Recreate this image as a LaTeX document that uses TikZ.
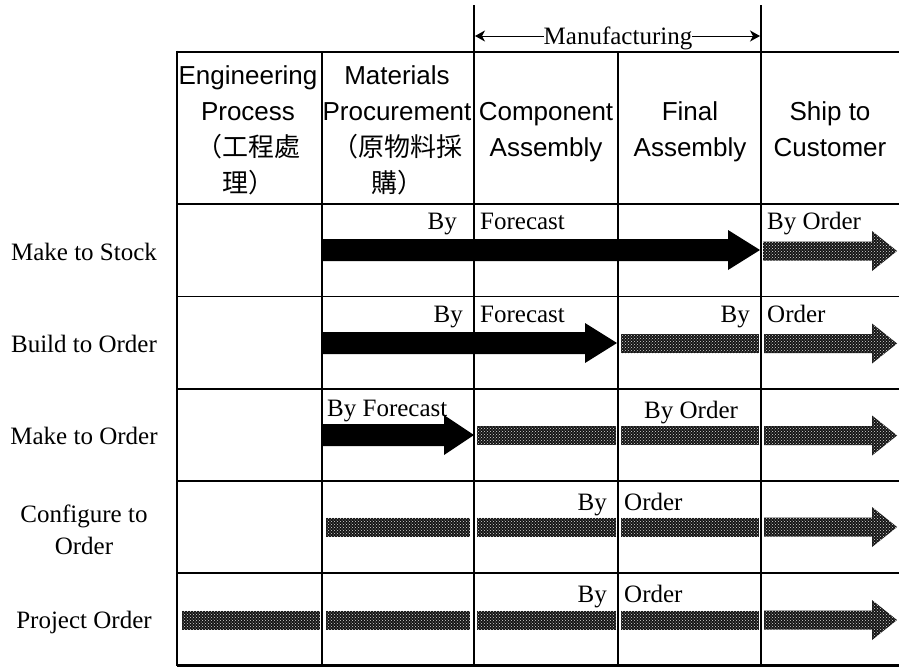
\documentclass[tikz,border=0pt]{standalone}
\usepackage{fontspec}
\setmainfont{Liberation Serif}
\newfontfamily\hdrfont{Liberation Sans}
\newfontfamily\cjkfont{Noto Sans CJK TC}
\usetikzlibrary{arrows.meta,patterns}
\newcommand\mygseg[3]{\fill[gry] (#1,#3-9.5) rectangle (#2,#3+9.5);}
\newcommand\myghead[3]{\fill[gry] (#1,#3-9.5) -- (#2,#3-9.5) -- (#2,#3-20) -- (897,#3) -- (#2,#3+20) -- (#2,#3+9.5) -- (#1,#3+9.5) -- cycle;}
\newcommand\mybarrow[4]{\fill[blk] (#1,#4-11) -- (#2,#4-11) -- (#2,#4-20) -- (#3,#4) -- (#2,#4+20) -- (#2,#4+11) -- (#1,#4+11) -- cycle;}
\begin{document}
\begin{tikzpicture}[x=1pt,y=-1pt,
 grid/.style={line width=1.6pt,black},
 border/.style={line width=2.6pt,black},
 thinline/.style={line width=1.1pt,black},
 hdr/.style={inner sep=0pt,anchor=base,font=\hdrfont\fontsize{26}{30}\selectfont},
 hcjk/.style={inner sep=0pt,anchor=base,font=\cjkfont\fontsize{26}{30}\selectfont},
 lbl/.style={inner sep=0pt,font=\fontsize{25}{30}\selectfont},
 blk/.style={fill=black},
 gry/.style={fill=black!92,postaction={pattern=crosshatch dots,pattern color=white!85!black}},
 mfgarrow/.style={line width=1pt,-{Stealth[length=10pt,width=11pt,inset=3pt]}},
]
\useasboundingbox (0,0) rectangle (899,667);

% bars
\mybarrow{323}{728}{760}{250}
\myghead{763}{872}{251}
\mybarrow{323}{585}{617}{343}
\mygseg{621}{759}{343.5}
\myghead{764}{872}{343.5}
\mybarrow{323}{444}{474}{435}
\mygseg{477}{616}{435.5}
\mygseg{621}{759}{435.5}
\myghead{764}{872}{435.5}
\mygseg{326}{470}{527}
\mygseg{477}{616}{527}
\mygseg{621}{759}{527}
\myghead{764}{872}{527}
\mygseg{182}{320}{620}
\mygseg{326}{470}{620}
\mygseg{477}{616}{620}
\mygseg{621}{759}{620}
\myghead{764}{872}{620}

% grid
\draw[thinline] (474,5) -- (474,52);
\draw[thinline] (761,5) -- (761,52);
\draw[border] (177,52) -- (899,52);
\draw[border] (177,50.7) -- (177,666);
\draw[grid] (177,204) -- (899,204);
\draw[grid] (177,296.5) -- (899,296.5);
\draw[grid] (177,389) -- (899,389);
\draw[grid] (177,481) -- (899,481);
\draw[grid] (177,573) -- (899,573);
\draw[border] (177,665.5) -- (899,665.5);
\draw[grid] (322,52) -- (322,665);
\draw[grid] (474,52) -- (474,665);
\draw[grid] (618,52) -- (618,665);
\draw[grid] (761,52) -- (761,665);

% manufacturing
\node[lbl,anchor=base] (mfg) at (618,44) {Manufacturing};
\coordinate (mL) at (475,36);
\coordinate (mR) at (760,36);
\draw[mfgarrow] (mfg.west |- mL) -- (mL);
\draw[mfgarrow] (mfg.east |- mR) -- (mR);

% header
\node[hdr] (h1a) at (248,84) {Engineering};
\node[hdr] (h1b) at (248,120) {Process};
\node[hcjk] (h1c) at (248,156) {（工程處};
\node[hcjk] (h1d) at (248,192) {理）};
\node[hdr] (h2a) at (397,84) {Materials};
\node[hdr] (h2b) at (397,120) {Procurement};
\node[hcjk] (h2c) at (397,156) {（原物料採};
\node[hcjk] (h2d) at (397,192) {購）};
\node[hdr] (h3a) at (546,120) {Component};
\node[hdr] (h3b) at (546,156) {Assembly};
\node[hdr] (h4a) at (690,120) {Final};
\node[hdr] (h4b) at (690,156) {Assembly};
\node[hdr] (h5a) at (830,120) {Ship to};
\node[hdr] (h5b) at (830,156) {Customer};

% row labels
\node[lbl,anchor=base] (r1) at (84,260) {Make to Stock};
\node[lbl,anchor=base] (r2) at (84,352) {Build to Order};
\node[lbl,anchor=base] (r3) at (84,444) {Make to Order};
\node[lbl,anchor=base] (r4a) at (84,522) {Configure to};
\node[lbl,anchor=base] (r4b) at (84,554) {Order};
\node[lbl,anchor=base] (r5) at (84,628) {Project Order};

% arrow labels
\node[lbl,anchor=base east] (a1a) at (457,229) {By};
\node[lbl,anchor=base west] (a1b) at (480,229) {Forecast};
\node[lbl,anchor=base west] (a1c) at (767,229) {By Order};
\node[lbl,anchor=base east] (a2a) at (463,322) {By};
\node[lbl,anchor=base west] (a2b) at (480,322) {Forecast};
\node[lbl,anchor=base east] (a2c) at (750,322) {By};
\node[lbl,anchor=base west] (a2d) at (767,322) {Order};
\node[lbl,anchor=base west] (a3a) at (327,416) {By Forecast};
\node[lbl,anchor=base west] (a3b) at (644,418) {By Order};
\node[lbl,anchor=base east] (a4a) at (607,510) {By};
\node[lbl,anchor=base west] (a4b) at (624,510) {Order};
\node[lbl,anchor=base east] (a5a) at (607,602) {By};
\node[lbl,anchor=base west] (a5b) at (624,602) {Order};
\end{tikzpicture}
\end{document}
